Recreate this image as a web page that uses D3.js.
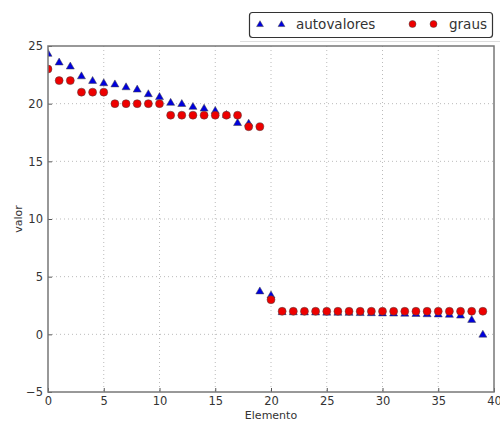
<!DOCTYPE html>
<html>
<head>
<meta charset="utf-8">
<script src="https://cdn.jsdelivr.net/npm/d3@7"></script>
<style>
  body { margin: 0; background: #fff; }
  text { font-family: "DejaVu Sans", sans-serif; fill: #333; }
</style>
</head>
<body>
<svg id="chart" width="500" height="421"></svg>
<script>
// values
const autovalores = [24.35, 23.6, 23.25, 22.4, 22.0, 21.8, 21.7, 21.45, 21.25, 20.85,
  20.6, 20.1, 20.0, 19.75, 19.6, 19.4, 19.05, 18.35, 18.3, 3.75,
  3.4, 1.95, 1.94, 1.93, 1.92, 1.91, 1.9, 1.89, 1.87, 1.86,
  1.84, 1.83, 1.81, 1.79, 1.77, 1.75, 1.72, 1.65, 1.28, 0.0];
const graus = [23, 22, 22, 21, 21, 21, 20, 20, 20, 20,
  20, 19, 19, 19, 19, 19, 19, 19, 18, 18,
  3, 2, 2, 2, 2, 2, 2, 2, 2, 2,
  2, 2, 2, 2, 2, 2, 2, 2, 2, 2];
const xTicks = [0, 5, 10, 15, 20, 25, 30, 35, 40];
const yTicks = [-5, 0, 5, 10, 15, 20, 25];

const svg = d3.select("#chart");
const plotLeft = 48, plotRight = 494, plotTop = 46, plotBottom = 392;

let x = d3.scaleLinear().domain([0, 40]).range([plotLeft, plotRight]);
let y = d3.scaleLinear().domain([-5, 25]).range([plotBottom, plotTop]);

svg.append("defs").append("clipPath")
  .attr("id", "plot-clip")
  .append("rect")
  .attr("x", plotLeft).attr("y", plotTop)
  .attr("width", plotRight - plotLeft).attr("height", plotBottom - plotTop);

// grid
let grid = svg.append("g");
grid.selectAll("line.gx")
  .data(xTicks.slice(1, -1))
  .enter().append("line")
  .attr("x1", d => x(d)).attr("x2", d => x(d))
  .attr("y1", plotTop).attr("y2", plotBottom)
  .attr("stroke", "#aaa").attr("stroke-width", 0.8)
  .attr("stroke-dasharray", "1,3");
grid.selectAll("line.gy")
  .data(yTicks.slice(1, -1))
  .enter().append("line")
  .attr("x1", plotLeft).attr("x2", plotRight)
  .attr("y1", d => y(d)).attr("y2", d => y(d))
  .attr("stroke", "#aaa").attr("stroke-width", 0.8)
  .attr("stroke-dasharray", "1,3");

// axes (ticks inside like matplotlib)
let xAxis = svg.append("g")
  .attr("transform", `translate(0,${plotBottom})`)
  .call(d3.axisBottom(x).tickValues(xTicks).tickSize(-4).tickPadding(5).tickFormat(d3.format("d")));
let yAxis = svg.append("g")
  .attr("transform", `translate(${plotLeft},0)`)
  .call(d3.axisLeft(y).tickValues(yTicks).tickSize(-4).tickPadding(5).tickFormat(d => d < 0 ? "\u2212" + Math.abs(d) : d));
[xAxis, yAxis].forEach(a => {
  a.select(".domain").remove();
  a.selectAll(".tick line").attr("stroke", "#555");
  a.selectAll(".tick text").style("font-size", "11.5px").attr("fill", "#333")
    .style("font-family", "DejaVu Sans, sans-serif");
});

// points
let marks = svg.append("g").attr("clip-path", "url(#plot-clip)");
const tri = d3.symbol().type(d3.symbolTriangle).size(28);
marks.selectAll("path.auto")
  .data(autovalores)
  .enter().append("path")
  .attr("class", "auto")
  .attr("d", tri)
  .attr("transform", (d, i) => `translate(${x(i)},${y(d) + 0.5})`)
  .attr("fill", "#0000dd")
  .attr("stroke", "#444").attr("stroke-width", 0.5);
marks.selectAll("circle.graus")
  .data(graus)
  .enter().append("circle")
  .attr("class", "graus")
  .attr("cx", (d, i) => x(i))
  .attr("cy", d => y(d))
  .attr("r", 4)
  .attr("fill", "#ee0000")
  .attr("stroke", "#444").attr("stroke-width", 0.5);

// frame
svg.append("rect")
  .attr("x", plotLeft).attr("y", plotTop)
  .attr("width", plotRight - plotLeft).attr("height", plotBottom - plotTop)
  .attr("fill", "none").attr("stroke", "#777").attr("stroke-width", 1.5);

// axis labels
svg.append("text")
  .attr("x", (plotLeft + plotRight) / 2).attr("y", 419)
  .attr("text-anchor", "middle")
  .style("font-size", "11px")
  .text("Elemento");
svg.append("text")
  .attr("transform", `translate(22,${(plotTop + plotBottom) / 2}) rotate(-90)`)
  .attr("text-anchor", "middle")
  .style("font-size", "11px")
  .text("valor");

// legend
svg.append("line")
  .attr("x1", 240).attr("x2", 500).attr("y1", 41.5).attr("y2", 41.5)
  .attr("stroke", "#ddd").attr("stroke-width", 1);
let legend = svg.append("g");
legend.append("rect")
  .attr("x", 249.5).attr("y", 12.5).attr("width", 243).attr("height", 25)
  .attr("rx", 3)
  .attr("fill", "#fff").attr("stroke", "#333").attr("stroke-width", 1.2);
const legendTri = d3.symbol().type(d3.symbolTriangle).size(20);
[260, 281.5].forEach(lx => {
  legend.append("path")
    .attr("d", legendTri)
    .attr("transform", `translate(${lx},24.6)`)
    .attr("fill", "#0000dd").attr("stroke", "#444").attr("stroke-width", 0.5);
});
legend.append("text")
  .attr("x", 296).attr("y", 29)
  .style("font-size", "13.5px")
  .text("autovalores");
[412.5, 433.5].forEach(lx => {
  legend.append("circle")
    .attr("cx", lx).attr("cy", 24).attr("r", 3.5)
    .attr("fill", "#ee0000").attr("stroke", "#444").attr("stroke-width", 0.5);
});
legend.append("text")
  .attr("x", 449).attr("y", 29)
  .style("font-size", "13.5px")
  .text("graus");
</script>
</body>
</html>
